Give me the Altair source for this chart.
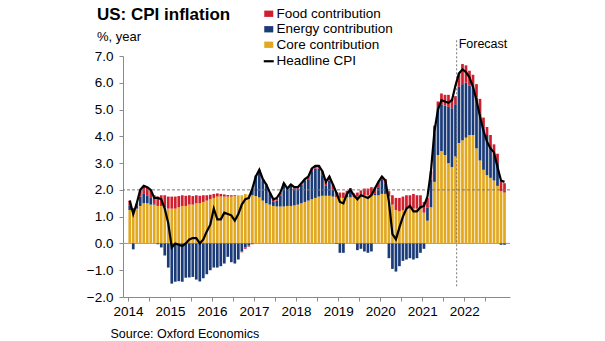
import altair as alt
import pandas as pd

# ---------------- data (monthly, Jan 2014 - Dec 2022) ----------------
core = [
    1.25, 1.2, 1.3, 1.4, 1.5, 1.5, 1.45, 1.45, 1.4, 1.4, 1.35, 1.3,
    1.3, 1.3, 1.35, 1.4, 1.4, 1.45, 1.45, 1.5, 1.5, 1.55, 1.6, 1.65,
    1.7, 1.75, 1.75, 1.75, 1.75, 1.75, 1.78, 1.78, 1.8, 1.85, 1.82, 1.8,
    1.77, 1.72, 1.6, 1.5, 1.45, 1.4, 1.38, 1.38, 1.38, 1.4, 1.4, 1.42,
    1.45, 1.5, 1.55, 1.6, 1.65, 1.7, 1.75, 1.78, 1.78, 1.78, 1.75, 1.72,
    1.7, 1.7, 1.72, 1.72, 1.72, 1.75, 1.78, 1.8, 1.8, 1.8, 1.8, 1.8,
    1.85, 1.85, 1.75, 1.45, 1.25, 1.2, 1.25, 1.3, 1.3, 1.3, 1.3, 1.3,
    1.15, 0.85, 1.35, 2.3, 3.3, 3.45, 3.3, 3.0, 2.85, 3.25, 3.75, 3.85,
    3.95, 4.05, 4.05, 3.55, 3.1, 2.75, 2.55, 2.45, 2.35, 2.15, 1.95, 1.9,
]
energy = [
    0.15, -0.22, 0.1, 0.35, 0.35, 0.3, 0.25, 0.05, -0.03, -0.15, -0.45, -0.9,
    -1.5, -1.43, -1.41, -1.43, -1.28, -1.27, -1.25, -1.35, -1.42, -1.3, -1.15, -1.0,
    -0.9, -0.9, -0.85, -0.75, -0.5, -0.7, -0.75, -0.6, -0.3, -0.15, -0.07, 0.25,
    0.75, 0.98, 0.75, 0.65, 0.4, 0.15, 0.22, 0.42, 0.77, 0.6, 0.75, 0.63,
    0.6, 0.7, 0.8, 0.8, 1.05, 1.1, 1.05, 0.77, 0.37, 0.57, 0.25, -0.02,
    -0.35, -0.35, 0.15, 0.25, 0.0, -0.25, -0.2, -0.3, -0.35, -0.3, 0.05, 0.3,
    0.55, 0.4, -0.55, -0.95, -1.05, -0.85, -0.65, -0.6, -0.55, -0.6, -0.55, -0.35,
    -0.2, 0.5, 1.05, 1.8, 1.75, 1.75, 1.85, 2.1, 2.2, 1.95, 2.1, 2.1,
    2.05, 1.85, 1.75, 1.9, 1.75, 1.55, 1.5, 1.15, 0.95, 0.85, -0.05, -0.05,
]
food = [
    0.2, 0.12, 0.1, 0.25, 0.3, 0.3, 0.3, 0.3, 0.35, 0.4, 0.45, 0.45,
    0.45, 0.45, 0.42, 0.4, 0.38, 0.35, 0.32, 0.3, 0.28, 0.25, 0.2, 0.17,
    0.15, 0.12, 0.1, 0.08, 0.06, 0.05, 0.03, 0.01, -0.03, -0.05, -0.05, -0.03,
    0.02, 0.05, 0.05, 0.05, 0.05, 0.08, 0.08, 0.1, 0.1, 0.05, 0.05, 0.05,
    0.05, 0.05, 0.05, 0.1, 0.1, 0.1, 0.1, 0.15, 0.15, 0.15, 0.2, 0.2,
    0.2, 0.2, 0.1, 0.1, 0.15, 0.15, 0.2, 0.25, 0.25, 0.3, 0.25, 0.2,
    0.1, 0.15, 0.2, 0.35, 0.45, 0.5, 0.5, 0.5, 0.5, 0.55, 0.5, 0.5,
    0.4, 0.35, 0.3, 0.3, 0.25, 0.4, 0.4, 0.45, 0.35, 0.3, 0.5, 0.75,
    0.65, 0.55, 0.5, 0.5, 0.55, 0.4, 0.3, 0.45, 0.4, 0.35, 0.4, 0.35,
]
headline = [
    1.6, 1.1, 1.5, 2.0, 2.15, 2.1, 2.0, 1.7, 1.7, 1.65, 1.3, 0.75,
    -0.15, 0.0, -0.05, -0.1, 0.0, 0.15, 0.2, 0.2, 0.0, 0.15, 0.45, 0.7,
    1.3, 0.9, 0.9, 1.15, 1.1, 1.05, 0.85, 1.1, 1.45, 1.65, 1.7, 2.05,
    2.5, 2.75, 2.4, 2.2, 1.9, 1.65, 1.7, 1.9, 2.25, 2.05, 2.2, 2.1,
    2.1, 2.25, 2.4, 2.5, 2.8, 2.9, 2.9, 2.7, 2.3, 2.5, 2.2, 1.9,
    1.55, 1.5, 1.85, 2.0, 1.8, 1.65, 1.8, 1.75, 1.7, 1.8, 2.05, 2.3,
    2.5, 2.35, 1.55, 0.35, 0.15, 0.6, 1.0, 1.3, 1.4, 1.2, 1.2, 1.35,
    1.4, 1.75, 2.7, 4.2, 5.0, 5.35, 5.3, 5.25, 5.35, 5.9, 6.35, 6.5,
    6.4, 6.2, 5.85, 5.35, 4.75, 4.2, 3.8, 3.55, 3.4, 2.85, 2.35, 2.3,
]
start_year = 2014
year_labels = [2014, 2015, 2016, 2017, 2018, 2019, 2020, 2021, 2022]
y_ticks = [-2, -1, 0, 1, 2, 3, 4, 5, 6, 7]
component_names = ["Food contribution", "Energy contribution", "Core contribution"]
component_colors = ["#CF1F2E", "#1A3B77", "#E2A820"]
line_name = "Headline CPI"
forecast_start = 2021.82
target_level = 2.0

title_text = "US: CPI inflation"
unit_text = "%, year"
source_text = "Source: Oxford Economics"
forecast_text = "Forecast"

# ---------------- tables built from the arrays ----------------
n = len(headline)
t = [start_year + (m + 0.5) / 12 for m in range(n)]
rows = []
for i in range(n):
    rows.append({"t": t[i], "v": core[i], "comp": "Core contribution", "o": 0})
    rows.append({"t": t[i], "v": energy[i], "comp": "Energy contribution", "o": 1})
    rows.append({"t": t[i], "v": food[i], "comp": "Food contribution", "o": 2})
bars_df = pd.DataFrame(rows)
line_df = pd.DataFrame({"t": t, "v": headline, "s": [line_name] * n})

FONT = "Liberation Sans"
xscale = alt.Scale(domain=[2014, 2022.97], nice=False, zero=False)
yscale = alt.Scale(domain=[-2, 7], nice=False, zero=False)
tick_vals = [y + h for y in year_labels for h in (0.0, 0.5)]

xaxis = alt.Axis(
    values=tick_vals,
    labelExpr="datum.value % 1 == 0 ? format(datum.value, 'd') : ''",
    grid=False, domainColor="#8a8a8a", tickColor="#8a8a8a", tickSize=4,
    labelFont=FONT, labelFontSize=13.5, labelColor="#000000", labelPadding=3,
    labelFlush=False, labelOverlap=False,
    title=source_text, titleFont=FONT, titleFontSize=12.5, titleFontWeight="normal",
    titleColor="#000000", titleAnchor="start", titleAlign="left",
    titleX=-13, titleY=40, titleBaseline="alphabetic",
)
yaxis = alt.Axis(
    values=y_ticks, format=".1f", grid=False, domainColor="#8a8a8a",
    tickColor="#8a8a8a", tickSize=4, labelFont=FONT, labelFontSize=13.5,
    labelColor="#000000", labelPadding=6, labelOverlap=False, labelFlush=False,
    title=None,
)


def X(field):
    return alt.X(field, scale=xscale, axis=xaxis)


def Y(field, **kw):
    return alt.Y(field, scale=yscale, axis=yaxis, **kw)


zero_rule = alt.Chart(pd.DataFrame({"y": [0]})).mark_rule(
    color="#9a9a9a", strokeWidth=1
).encode(y=Y("y:Q"))

bars = alt.Chart(bars_df).mark_bar(size=2.7).encode(
    x=X("t:Q"),
    y=Y("v:Q", stack="zero"),
    fill=alt.Fill(
        "comp:N",
        scale=alt.Scale(domain=component_names, range=component_colors),
        legend=alt.Legend(
            title=None, orient="none", legendX=139, legendY=-49,
            symbolType="M-1,-0.7L1,-0.7L1,0.7L-1,0.7Z", symbolSize=81,
            symbolStrokeWidth=0, labelFont=FONT, labelFontSize=13.5,
            labelColor="#000000", labelOffset=1, rowPadding=0.5, padding=0,
        ),
    ),
    order=alt.Order("o:Q", sort="ascending"),
)

target_rule = alt.Chart(pd.DataFrame({"y": [target_level]})).mark_rule(
    color="#777777", strokeWidth=1, strokeDash=[3, 2]
).encode(y=Y("y:Q"))

fc_df = pd.DataFrame({"x": [forecast_start], "y0": [-1.6], "y1": [7.6], "ty": [7.45], "label": [forecast_text]})
forecast_rule = alt.Chart(fc_df).mark_rule(
    color="#777777", strokeWidth=1, strokeDash=[2, 2]
).encode(x=X("x:Q"), y=Y("y0:Q"), y2="y1:Q")
forecast_label = alt.Chart(fc_df).mark_text(
    align="left", baseline="middle", dx=2, font=FONT, fontSize=12.5, color="#000000"
).encode(x=X("x:Q"), y=Y("ty:Q"), text="label:N")

line = alt.Chart(line_df).mark_line(strokeWidth=2.2).encode(
    x=X("t:Q"),
    y=Y("v:Q"),
    stroke=alt.Stroke(
        "s:N",
        scale=alt.Scale(domain=[line_name], range=["#000000"]),
        legend=alt.Legend(
            title=None, orient="none", legendX=139, legendY=-1.5,
            symbolType="stroke", symbolSize=100, symbolStrokeWidth=2.2,
            labelFont=FONT, labelFontSize=13.5, labelColor="#000000",
            labelOffset=1, padding=0,
        ),
    ),
)

title_mark = alt.Chart(pd.DataFrame({"s": [title_text]})).mark_text(
    align="left", baseline="middle", font=FONT, fontSize=17, fontWeight="bold", color="#000000"
).encode(x=alt.value(-26), y=alt.value(-41), text="s:N")
unit_mark = alt.Chart(pd.DataFrame({"s": [unit_text]})).mark_text(
    align="left", baseline="middle", font=FONT, fontSize=13, color="#000000"
).encode(x=alt.value(-26), y=alt.value(-19), text="s:N")

chart = alt.layer(
    zero_rule, bars, target_rule, forecast_rule, forecast_label, line, title_mark, unit_mark
).resolve_legend(fill="independent", stroke="independent").properties(
    width=387, height=241,
    autosize=alt.AutoSizeParams(type="none"),
    padding={"left": 123, "top": 56, "right": 95, "bottom": 44},
    background="#ffffff",
).configure_view(stroke=None).configure_axisY(labelOverlap=False)

chart.save("out.html", embed_options={"renderer": "svg", "actions": False})
